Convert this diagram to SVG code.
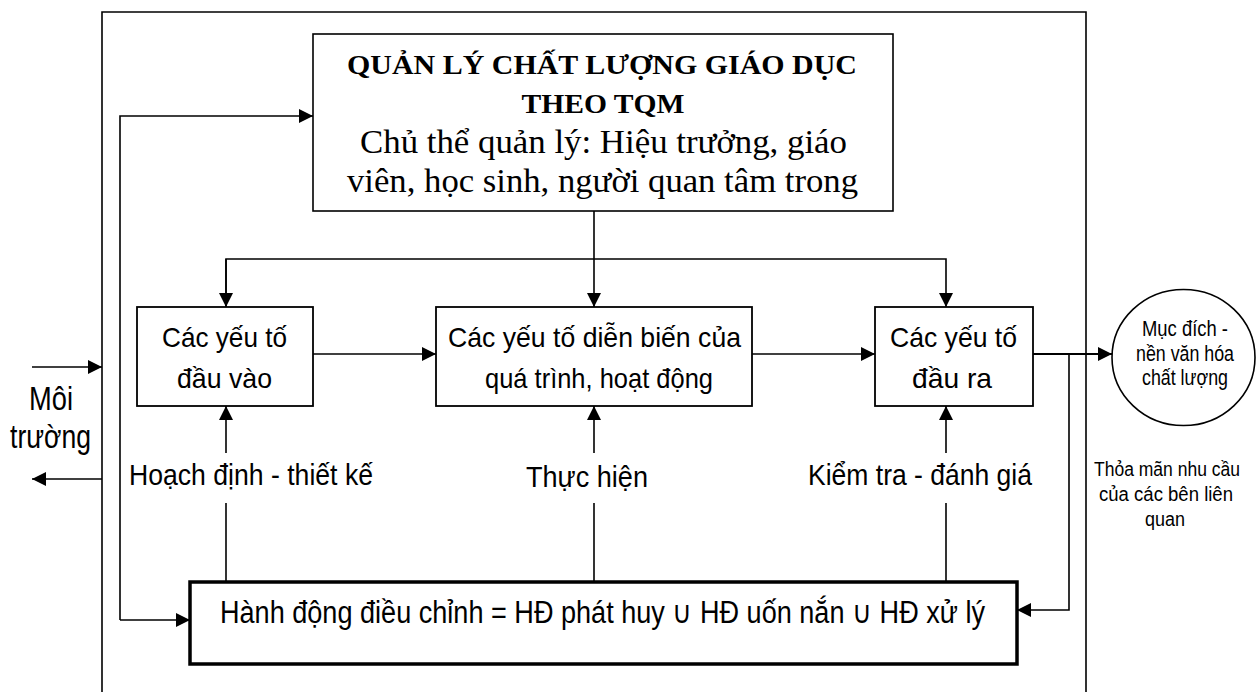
<svg xmlns="http://www.w3.org/2000/svg" width="1256" height="692" viewBox="0 0 1256 692">
<defs>
<marker id="arr" markerUnits="userSpaceOnUse" markerWidth="15" markerHeight="15" refX="14" refY="7.5" orient="auto">
<path d="M0,0.5 L14,7.5 L0,14.5 z" fill="#000"/>
</marker>
<style>
.ln{stroke:#000;stroke-width:1.6;fill:none}
.box{stroke:#000;stroke-width:1.8;fill:#fff}
.ser{font-family:"Liberation Serif","Times New Roman",serif;fill:#000;text-anchor:middle}
.sans{font-family:"Liberation Sans",Arial,sans-serif;fill:#000;text-anchor:middle}
</style>
</defs>
<rect width="1256" height="692" fill="#fff"/>
<path id="frame" class="ln" d="M102,700 V12 H1086 V700"/>
<g id="connectors">
<path class="ln" d="M594,211 V307" marker-end="url(#arr)"/>
<path class="ln" d="M226,307 V259 H946 V307" marker-end="url(#arr)"/>
<path class="ln" d="M226,259 V307" marker-end="url(#arr)"/>
<path class="ln" d="M313,354 H436" marker-end="url(#arr)"/>
<path class="ln" d="M752,354 H875" marker-end="url(#arr)"/>
<path class="ln" d="M1033,354 H1112" marker-end="url(#arr)" style="stroke-width:2"/>
<path class="ln" d="M1069,354 V610 H1017" marker-end="url(#arr)"/>
<path class="ln" d="M226,582 V503"/>
<path class="ln" d="M594,582 V503"/>
<path class="ln" d="M946,582 V503"/>
<path class="ln" d="M226,453 V406" marker-end="url(#arr)"/>
<path class="ln" d="M594,453 V406" marker-end="url(#arr)"/>
<path class="ln" d="M946,453 V406" marker-end="url(#arr)"/>
<path class="ln" d="M120,620 V116 H313" marker-end="url(#arr)"/>
<path class="ln" d="M120,620 H190" marker-end="url(#arr)"/>
<path class="ln" d="M32,367 H102" marker-end="url(#arr)"/>
<path class="ln" d="M102,479 H32" marker-end="url(#arr)"/>
</g>
<g id="top">
<rect class="box" x="313" y="34" width="580" height="177" style="stroke-width:1.6"/>
<text class="ser" x="602" y="74" font-size="28" font-weight="bold" textLength="510" lengthAdjust="spacingAndGlyphs">QUẢN LÝ CHẤT LƯỢNG GIÁO DỤC</text>
<text class="ser" x="603" y="113" font-size="28" font-weight="bold" textLength="163" lengthAdjust="spacingAndGlyphs">THEO TQM</text>
<text class="ser" x="603.5" y="153" font-size="33" textLength="487" lengthAdjust="spacingAndGlyphs">Chủ thể quản lý: Hiệu trưởng, giáo</text>
<text class="ser" x="602.5" y="192" font-size="33" textLength="511" lengthAdjust="spacingAndGlyphs">viên, học sinh, người quan tâm trong</text>
</g>
<g id="input">
<rect class="box" x="137" y="307" width="176" height="99"/>
<text class="sans" x="224.5" y="347" font-size="28" textLength="125" lengthAdjust="spacingAndGlyphs">Các yếu tố</text>
<text class="sans" x="224.5" y="388" font-size="28" textLength="95" lengthAdjust="spacingAndGlyphs">đầu vào</text>
</g>
<g id="process">
<rect class="box" x="436" y="307" width="316" height="99"/>
<text class="sans" x="594.5" y="347" font-size="28" textLength="293" lengthAdjust="spacingAndGlyphs">Các yếu tố diễn biến của</text>
<text class="sans" x="599" y="388" font-size="28" textLength="228" lengthAdjust="spacingAndGlyphs">quá trình, hoạt động</text>
</g>
<g id="output">
<rect class="box" x="875" y="307" width="158" height="99"/>
<text class="sans" x="953.5" y="347" font-size="28" textLength="127" lengthAdjust="spacingAndGlyphs">Các yếu tố</text>
<text class="sans" x="952" y="388" font-size="28" textLength="80" lengthAdjust="spacingAndGlyphs">đầu ra</text>
</g>
<g id="goal">
<ellipse class="box" cx="1183.5" cy="357.5" rx="71.5" ry="68" style="stroke-width:1.6"/>
<text class="sans" x="1185" y="336" font-size="22" textLength="86" lengthAdjust="spacingAndGlyphs">Mục đích -</text>
<text class="sans" x="1185" y="361" font-size="22" textLength="98" lengthAdjust="spacingAndGlyphs">nền văn hóa</text>
<text class="sans" x="1185" y="385" font-size="22" textLength="86" lengthAdjust="spacingAndGlyphs">chất lượng</text>
</g>
<g id="environment">
<text class="sans" x="51" y="410" font-size="34" textLength="44" lengthAdjust="spacingAndGlyphs">Môi</text>
<text class="sans" x="50.5" y="448" font-size="34" textLength="81" lengthAdjust="spacingAndGlyphs">trường</text>
</g>
<g id="labels">
<text class="sans" x="251" y="485" font-size="29" textLength="244" lengthAdjust="spacingAndGlyphs">Hoạch định - thiết kế</text>
<text class="sans" x="587" y="487" font-size="29" textLength="122" lengthAdjust="spacingAndGlyphs">Thực hiện</text>
<text class="sans" x="920" y="485" font-size="29" textLength="224" lengthAdjust="spacingAndGlyphs">Kiểm tra - đánh giá</text>
</g>
<g id="satisfy">
<text class="sans" x="1167" y="476" font-size="20" textLength="146" lengthAdjust="spacingAndGlyphs">Thỏa mãn nhu cầu</text>
<text class="sans" x="1166" y="501" font-size="20" textLength="134" lengthAdjust="spacingAndGlyphs">của các bên liên</text>
<text class="sans" x="1165" y="526" font-size="20" textLength="40" lengthAdjust="spacingAndGlyphs">quan</text>
</g>
<g id="action">
<rect class="box" x="190" y="582" width="827" height="82" style="stroke-width:3.5"/>
<text class="sans" x="602.5" y="623" font-size="31" textLength="765" lengthAdjust="spacingAndGlyphs">Hành động điều chỉnh = HĐ phát huy ∪ HĐ uốn nắn ∪ HĐ xử lý</text>
</g>
</svg>
